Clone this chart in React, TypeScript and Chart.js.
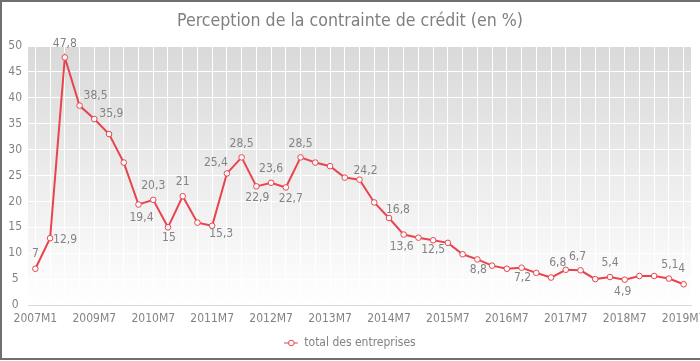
import React, { useEffect, useRef } from 'react';
import { Chart, registerables } from 'chart.js';

Chart.register(...registerables);

const categories: string[] = [
  '2007M1', '2008M1', '2009M1', '2009M4',
  '2009M7', '2009M10', '2010M1', '2010M4',
  '2010M7', '2010M10', '2011M1', '2011M4',
  '2011M7', '2011M10', '2012M1', '2012M4',
  '2012M7', '2012M10', '2013M1', '2013M4',
  '2013M7', '2013M10', '2014M1', '2014M4',
  '2014M7', '2014M10', '2015M1', '2015M4',
  '2015M7', '2015M10', '2016M1', '2016M4',
  '2016M7', '2016M10', '2017M1', '2017M4',
  '2017M7', '2017M10', '2018M1', '2018M4',
  '2018M7', '2018M10', '2019M1', '2019M4',
  '2019M7',
];

const values: number[] = [
  7, 12.9, 47.8, 38.5,
  35.9, 33.0, 27.5, 19.4,
  20.3, 15, 21, 15.9,
  15.3, 25.4, 28.5, 22.9,
  23.6, 22.7, 28.5, 27.5,
  26.8, 24.6, 24.2, 19.8,
  16.8, 13.6, 13.0, 12.5,
  12.0, 9.8, 8.8, 7.6,
  7.0, 7.2, 6.2, 5.3,
  6.8, 6.7, 5.0, 5.4,
  4.9, 5.6, 5.6, 5.1,
  4,
];

const seriesName = 'total des entreprises';
const chartTitle = 'Perception de la contrainte de crédit (en %)';

// indices of points that carry a data label
const labelledIdx: number[] = [0, 1, 2, 3, 4, 7, 8, 9, 10, 12, 13, 14, 15, 16, 17, 18, 22, 24, 25, 27, 30, 33, 36, 37, 39, 40, 43, 44];
// label offsets (px) relative to the point, same order as labelledIdx
const labelDx: number[] = [0, 15, 0, 16, 17, 3, 0, 1, 0, 9, -11, 0, 1, 0, 5, 0, 6, 9, -2, 0, 1, 1, -8, -3, 0, -2, 1, -2];
const labelDy: number[] = [-15, 2, -14, -10, -5, 13, -14, 11, -14, 8, -11, -14, 11, -14, 11, -14, -9, -8, 12, 10, 10, 10, -7, -13, -14, 12, -14, -15];

const FONT = '"DejaVu Sans Condensed", "DejaVu Sans", sans-serif';
const LINE = '#e8444e';
const TEXT = '#838383';

function fmt(v: number): string {
  return String(v).replace('.', ',');
}

function makeLegendIcon(): HTMLCanvasElement {
  const c = document.createElement('canvas');
  c.width = 14;
  c.height = 8;
  const ctx = c.getContext('2d')!;
  ctx.strokeStyle = LINE;
  ctx.lineWidth = 1;
  ctx.beginPath();
  ctx.moveTo(0, 4);
  ctx.lineTo(14, 4);
  ctx.stroke();
  ctx.fillStyle = '#ffffff';
  ctx.beginPath();
  ctx.arc(7, 4, 2.8, 0, Math.PI * 2);
  ctx.fill();
  ctx.stroke();
  return c;
}

const backgroundPlugin = {
  id: 'bgPlugin',
  beforeDraw(chart: any) {
    const { ctx, chartArea, width, height } = chart;
    ctx.save();
    ctx.fillStyle = '#ffffff';
    ctx.fillRect(0, 0, width, height);
    const g = ctx.createLinearGradient(0, chartArea.top, 0, chartArea.bottom);
    g.addColorStop(0, '#d9d9d9');
    g.addColorStop(1, '#ffffff');
    ctx.fillStyle = g;
    ctx.fillRect(chartArea.left, chartArea.top, chartArea.right - chartArea.left, chartArea.bottom - chartArea.top);
    ctx.restore();
  },
  afterDraw(chart: any) {
    const { ctx, width } = chart;
    ctx.save();
    ctx.fillStyle = '#707070';
    ctx.fillRect(0, 0, width, 2);
    ctx.fillRect(0, 0, 2, 359);
    ctx.fillRect(0, 358, width, 2);
    ctx.restore();
  },
};

const dataLabelPlugin = {
  id: 'dataLabels',
  afterDatasetsDraw(chart: any) {
    const { ctx } = chart;
    const meta = chart.getDatasetMeta(0);
    ctx.save();
    ctx.font = `12px ${FONT}`;
    ctx.fillStyle = TEXT;
    ctx.textAlign = 'center';
    ctx.textBaseline = 'middle';
    labelledIdx.forEach((idx, k) => {
      const pt = meta.data[idx];
      if (!pt) return;
      ctx.fillText(fmt(values[idx]), pt.x + labelDx[k], pt.y + labelDy[k]);
    });
    ctx.restore();
  },
};

export default function App() {
  const ref = useRef<HTMLCanvasElement | null>(null);

  useEffect(() => {
    if (!ref.current) return;
    const chart = new Chart(ref.current, {
      type: 'line',
      data: {
        labels: categories,
        datasets: [
          {
            label: seriesName,
            data: values,
            borderColor: LINE,
            backgroundColor: '#ffffff',
            borderWidth: 2,
            pointRadius: 2.8,
            pointBorderWidth: 1,
            pointBackgroundColor: '#ffffff',
            pointBorderColor: LINE,
            tension: 0,
          },
        ],
      },
      options: {
        responsive: false,
        animation: false,
        layout: { padding: { left: 0, right: 0, top: 0, bottom: 2 } },
        plugins: {
          title: {
            display: true,
            text: chartTitle,
            color: '#7f7f7f',
            font: { family: FONT, size: 17.6, weight: 'normal' },
            padding: { top: 10.5, bottom: 14.4 },
          },
          legend: {
            display: true,
            position: 'bottom',
            labels: {
              color: TEXT,
              font: { family: FONT, size: 12 },
              usePointStyle: true,
              pointStyle: makeLegendIcon() as any,
              pointStyleWidth: 14,
              boxHeight: 8,
              padding: 10,
            },
          },
          tooltip: { enabled: false },
        },
        scales: {
          x: {
            offset: true,
            grid: { color: '#ffffff', lineWidth: 1, drawTicks: false, offset: false },
            border: { display: true, color: '#d9d9d9' },
            ticks: {
              color: TEXT,
              font: { family: FONT, size: 12 },
              autoSkip: false,
              maxRotation: 0,
              padding: 7,
              callback: (_v: any, i: number) => (i % 4 === 0 ? categories[i] : ''),
            },
            afterFit: (s: any) => {
              s.height = 22;
              s.paddingLeft = 0;
              s.paddingRight = 9;
            },
          },
          y: {
            min: 0,
            max: 50,
            ticks: {
              stepSize: 5,
              color: TEXT,
              font: { family: FONT, size: 12 },
              padding: 6,
              crossAlign: 'center',
            },
            grid: {
              color: (c: any) => (c.tick && c.tick.value === 0 ? '#d9d9d9' : '#ffffff'),
              lineWidth: 1,
              drawTicks: false,
            },
            border: { display: false },
            afterFit: (s: any) => {
              s.width = 28;
              s.paddingTop = 0;
              s.paddingBottom = 0;
            },
          },
        },
      },
      plugins: [backgroundPlugin, dataLabelPlugin],
    });
    return () => chart.destroy();
  }, []);

  return (
    <div style={{ position: 'fixed', left: 0, top: 0, width: 700, height: 361, background: '#fff' }}>
      <canvas ref={ref} width={700} height={361} style={{ display: 'block', width: 700, height: 361 }} />
    </div>
  );
}
